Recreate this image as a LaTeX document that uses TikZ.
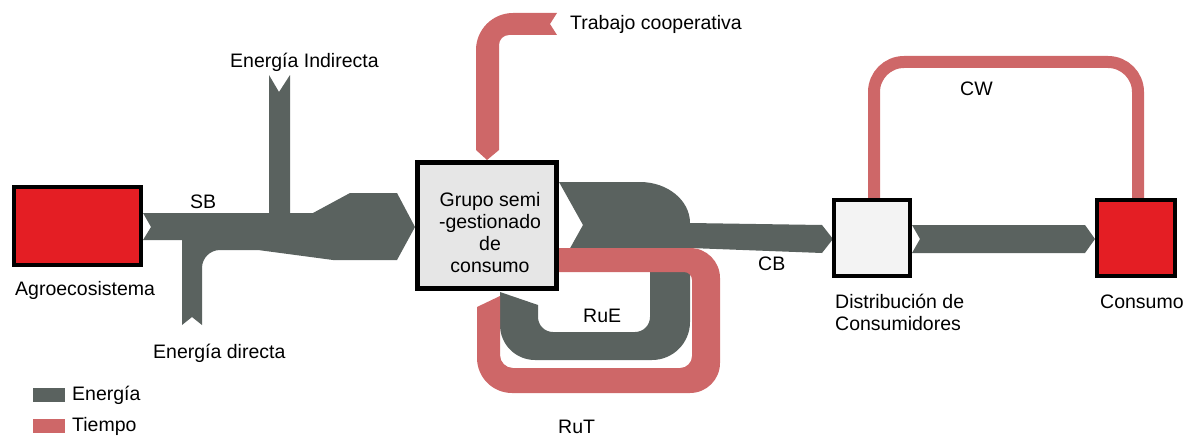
\documentclass[tikz,border=0pt]{standalone}
\usepackage{fontspec}
\setmainfont{Liberation Sans}
\usetikzlibrary{calc}
\definecolor{energy}{RGB}{90,98,95}
\definecolor{tiempo}{RGB}{206,103,104}
\definecolor{boxred}{RGB}{228,30,36}
\definecolor{grupofill}{RGB}{230,230,230}
\definecolor{distfill}{RGB}{243,243,243}
\def\rc#1#2#3{.. controls ($#1!0.552!#2$) and ($#3!0.552!#2$) .. #3}
\tikzset{
  lbl/.style={font=\fontsize{19.5}{22}\selectfont, inner sep=0pt, anchor=base west},
  ebox/.style={draw=black, line width=4pt, inner sep=0pt},
  eband/.style={fill=energy},
  tband/.style={fill=tiempo}
}
\begin{document}
\begin{tikzpicture}[x=1pt,y=-1pt]
\useasboundingbox (0,0) rectangle (1188,436);
% SB energy band with inputs
\fill[eband] (143,213) -- (269,213) -- (269,75) -- (279,92) -- (290,75) -- (290,213) -- (313,213) -- (350,193) -- (397,193) -- (415,227) -- (397,260) -- (333,260) -- (258,250) -- (220,250) \rc{(220,250)}{(202,250)}{(202,268)} -- (202,325) -- (192,317) -- (182,325) -- (182,240) -- (143,240) -- (151,227) -- cycle;
% output energy from grupo (CB + RuE)
\fill[eband] (559,182) -- (640,182) \rc{(640,182)}{(690,182)}{(690,223)} -- (822,225) -- (833,239) -- (822,253) -- (690,248) -- (690,322) \rc{(690,322)}{(690,360)}{(652,360)} -- (535,360) \rc{(535,360)}{(500,360)}{(500,325)} -- (500,292) -- (538,305) -- (538,317) \rc{(538,317)}{(538,332)}{(553,332)} -- (635,332) \rc{(635,332)}{(650,332)}{(650,317)} -- (650,265) -- (559,268) -- (583,225) -- cycle;
% RuT time loop
\fill[tband] (559,248) -- (690,248) \rc{(690,248)}{(720,248)}{(720,278)} -- (720,363) \rc{(720,363)}{(720,393)}{(690,393)} -- (512,393) \rc{(512,393)}{(477,393)}{(477,358)} -- (477,307) -- (500,296) -- (500,355) \rc{(500,355)}{(500,368)}{(513,368)} -- (680,368) \rc{(680,368)}{(692,368)}{(692,356)} -- (692,280) \rc{(692,280)}{(692,272)}{(684,272)} -- (559,272) -- cycle;
% Trabajo cooperativa
\fill[tband] (487,160) -- (476,150) -- (476,50) \rc{(476,50)}{(476,13)}{(513,13)} -- (557,13) -- (550,24) -- (557,35) -- (509,35) \rc{(509,35)}{(499,35)}{(499,45)} -- (499,150) -- cycle;
% distribution -> consumo band
\fill[eband] (912,225) -- (1085,225) -- (1095,239) -- (1085,253) -- (912,253) -- (920,239) -- cycle;
% CW loop
\draw[tiempo, line width=12pt, rounded corners=30pt] (874,200) -- (874,62) -- (1138,62) -- (1138,200);
% boxes
\node[ebox, fill=boxred, minimum width=127pt, minimum height=78pt] (agro) at (77.5,226) {};
\node[ebox, line width=5pt, fill=grupofill, minimum width=139pt, minimum height=126pt] (grupo) at (487,225.5) {};
\node[ebox, fill=distfill, minimum width=76pt, minimum height=76pt] (dist) at (872,238) {};
\node[ebox, fill=boxred, minimum width=78pt, minimum height=76pt] (cons) at (1136,238) {};
% labels
\node[lbl] (lagro) at (15,295) {Agroecosistema};
\node[lbl] (lsb) at (190,208) {SB};
\node[lbl] (ldir) at (153,358) {Energía directa};
\node[lbl] (lind) at (230,67) {Energía Indirecta};
\node[lbl] (ltrab) at (570,30) {Trabajo cooperativa};
\node[font=\fontsize{19.5}{22}\selectfont, inner sep=0pt, align=center] (lgrupo) at (490,233) {Grupo semi\\-gestionado\\de\\consumo};
\node[lbl] (lrue) at (583,322) {RuE};
\node[lbl] (lrut) at (558,433) {RuT};
\node[lbl] (lcb) at (758,270) {CB};
\node[lbl] (lcw) at (960,95) {CW};
\node[lbl] (ldist1) at (835,308) {Distribución de};
\node[lbl] (ldist2) at (835,330) {Consumidores};
\node[lbl] (lcons) at (1100,308) {Consumo};
% legend
\fill[energy] (33,388) rectangle (65,402);
\fill[tiempo] (33,419) rectangle (65,433);
\node[lbl] (leg1) at (72,400) {Energía};
\node[lbl] (leg2) at (72,431) {Tiempo};
\end{tikzpicture}
\end{document}
